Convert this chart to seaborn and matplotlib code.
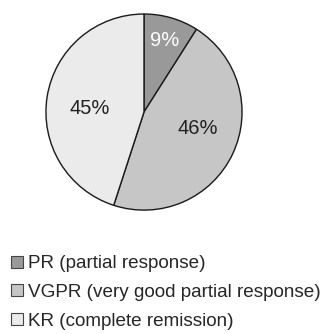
import matplotlib
matplotlib.use("Agg")
import matplotlib.pyplot as plt
import matplotlib.patches as mpatches
import numpy as np
import seaborn as sns

sns.set_style("white")
plt.rcParams["font.family"] = ["Liberation Sans", "DejaVu Sans"]

categories = ["PR (partial response)", "VGPR (very good partial response)", "KR (complete remission)"]
shares = [9, 46, 45]
colors = ["#999999", "#c5c6c5", "#ebebeb"]
label_colors = ["white", "#222222", "#222222"]
# label placement per slice: (radius fraction, angle shift in degrees)
label_offsets = [(0.76, 0.0), (0.57, 8.5), (0.56, 5.0)]

fig = plt.figure(figsize=(3.28, 3.34), dpi=100)
ax = fig.add_axes([0.137, 0.368, 0.604, 0.593])

wedges, _ = ax.pie(shares, colors=colors, startangle=90, counterclock=False,
                   wedgeprops=dict(edgecolor="#1a1a1a", linewidth=1.0))
ax.set_xlim(-1.01, 1.01)
ax.set_ylim(-1.01, 1.01)
ax.set_aspect("equal")

for w, s, tc, (r, shift) in zip(wedges, shares, label_colors, label_offsets):
    mid = np.deg2rad((w.theta1 + w.theta2) / 2 + shift)
    ax.text(r * np.cos(mid), r * np.sin(mid), f"{s}%", ha="center", va="center",
            fontsize=14.5, color=tc)

handles = [mpatches.Patch(facecolor=c, edgecolor="#444444", linewidth=0.8) for c in colors]
fig.legend(handles, categories, loc="upper left", bbox_to_anchor=(0.035, 0.236),
           frameon=False, fontsize=13.6, handlelength=0.6, handleheight=0.6,
           handletextpad=0.25, labelspacing=0.62, borderpad=0, borderaxespad=0)

fig.savefig("out.png", dpi=100)
